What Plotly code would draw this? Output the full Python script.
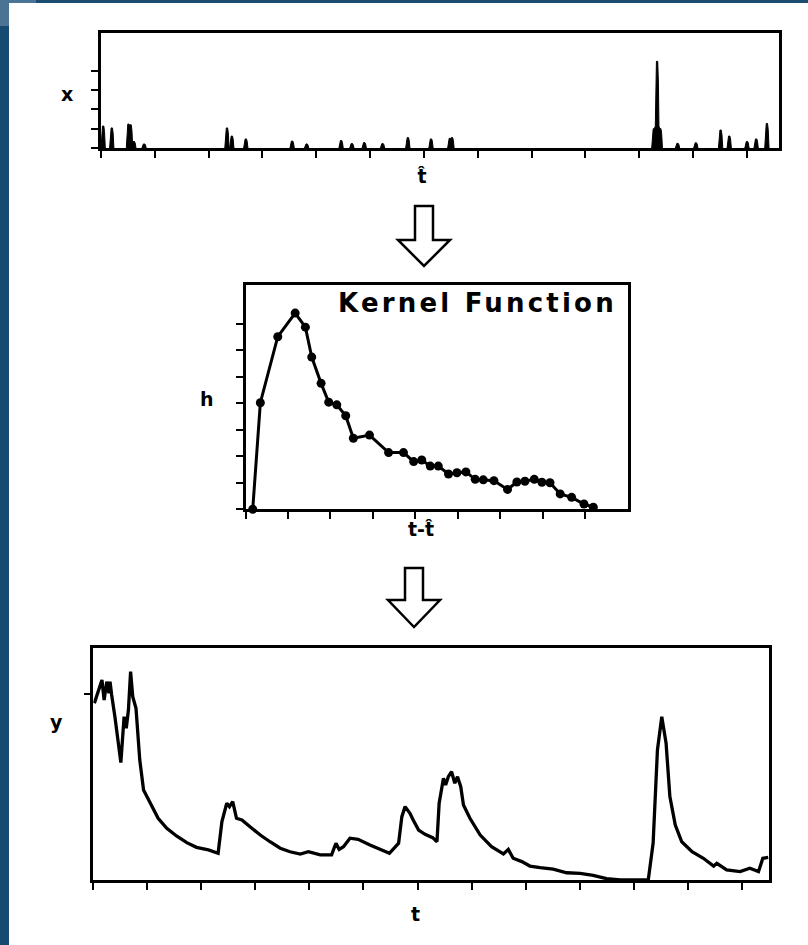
import plotly.graph_objects as go

W, H = 808, 945

# ---- input spike train x(t^) ----
spike_t = [0.04, 0.20, 0.51, 0.55, 0.61, 0.80, 2.34, 2.43, 2.69, 3.55, 3.82, 4.46, 4.66,
           4.89, 5.23, 5.70, 6.13, 6.48, 6.52, 10.27, 10.30, 10.33, 10.36, 10.39, 10.71,
           11.05, 11.51, 11.67, 12.00, 12.17, 12.37]
spike_x = [1.14, 1.04, 1.24, 1.20, 0.34, 0.21, 1.04, 0.62, 0.47, 0.36, 0.21, 0.39, 0.23,
           0.28, 0.23, 0.54, 0.47, 0.50, 0.54, 1.00, 1.09, 4.49, 1.09, 1.00, 0.24,
           0.27, 0.93, 0.62, 0.34, 0.47, 1.27]

# ---- kernel function h(t - t^) ----
kern_t = [0.17, 0.35, 0.76, 1.17, 1.41, 1.56, 1.78, 1.96, 2.15, 2.36, 2.54, 2.92, 3.37,
          3.72, 3.96, 4.15, 4.35, 4.54, 4.78, 4.98, 5.19, 5.41, 5.60, 5.85, 6.17, 6.39,
          6.58, 6.80, 6.98, 7.17, 7.41, 7.68, 7.97, 8.19]
kern_h = [0.0, 4.02, 6.51, 7.40, 6.87, 5.74, 4.75, 4.04, 3.94, 3.53, 2.68, 2.80, 2.14,
          2.14, 1.80, 1.86, 1.63, 1.63, 1.33, 1.38, 1.41, 1.13, 1.11, 1.08, 0.75, 1.03,
          1.06, 1.13, 1.02, 1.00, 0.58, 0.45, 0.20, 0.08]

# ---- output y(t) ----
out_t = [0.02, 0.06, 0.16, 0.20, 0.25, 0.29, 0.31, 0.34, 0.40, 0.51,
         0.57, 0.61, 0.65, 0.69, 0.73, 0.79, 0.86, 0.93, 0.98, 1.08,
         1.20, 1.36, 1.54, 1.73, 1.91, 2.13, 2.31, 2.38, 2.47, 2.52,
         2.58, 2.65, 2.75, 2.90, 3.09, 3.27, 3.46, 3.64, 3.83, 3.98,
         4.20, 4.41, 4.49, 4.55, 4.63, 4.75, 4.90, 5.12, 5.31, 5.48,
         5.65, 5.71, 5.77, 5.86, 5.92, 6.02, 6.14, 6.28, 6.36, 6.40,
         6.48, 6.52, 6.57, 6.63, 6.69, 6.74, 6.80, 6.85, 6.97, 7.16,
         7.37, 7.59, 7.68, 7.77, 7.93, 8.08, 8.27, 8.51, 8.76, 9.01,
         9.25, 9.50, 9.75, 10.06, 10.27, 10.36, 10.44, 10.52, 10.60, 10.67,
         10.77, 10.89, 11.08, 11.29, 11.48, 11.54, 11.72, 11.97, 12.15, 12.31,
         12.39, 12.49]
out_y = [95.2, 98.7, 107.7, 96.9, 106.8, 100.5, 106.8, 99.6, 87.9, 63.2,
         87.9, 81.7, 91.5, 112.2, 98.7, 92.5, 64.6, 48.5, 45.8, 39.5,
         33.2, 27.8, 23.7, 20.1, 17.6, 16.2, 14.4, 31.4, 41.3, 39.5,
         42.2, 33.2, 32.3, 28.7, 24.2, 20.6, 17.1, 15.2, 14.0, 15.2,
         13.5, 13.5, 19.8, 16.5, 17.9, 22.5, 21.9, 18.8, 16.5, 14.4,
         19.8, 34.1, 39.5, 35.9, 32.3, 26.9, 24.6, 22.8, 20.6, 41.3,
         54.8, 51.2, 55.6, 58.3, 52.1, 55.6, 50.2, 40.4, 33.2, 24.2,
         17.9, 14.0, 16.5, 11.7, 9.9, 7.5, 6.6, 5.8, 3.9, 3.6,
         2.5, 0.7, 0.0, 0.0, 0.0, 19.8, 70.0, 87.9, 73.6, 44.9,
         29.6, 20.6, 15.2, 11.7, 7.5, 9.0, 5.4, 4.5, 6.3, 4.5,
         11.7, 12.2]

top_xticks = list(range(13))
top_yticks = [0, 1, 2, 3, 4]
mid_xticks = list(range(9))
mid_yticks = list(range(8))
bot_xticks = list(range(13))
bot_yticks = [100]


def px(x):
    return x / W


def py(y):
    return 1 - y / H


# each spike is drawn as a narrow filled column with a rounded top
sx, sy = [], []
for c, h in zip(spike_t, spike_x):
    sx += [c - 0.04, c - 0.025, c - 0.012, c + 0.012, c + 0.025, c + 0.04, None]
    sy += [0, 0.75 * h, h, h, 0.75 * h, 0, None]

fig = go.Figure()
fig.add_trace(go.Scatter(x=sx, y=sy, mode="lines", fill="toself", fillcolor="black",
                         line=dict(color="black", width=1), xaxis="x", yaxis="y",
                         hoverinfo="skip", cliponaxis=False))
fig.add_trace(go.Scatter(x=kern_t, y=kern_h, mode="lines+markers",
                         line=dict(color="black", width=3),
                         marker=dict(color="black", size=9),
                         xaxis="x2", yaxis="y2", cliponaxis=False))
fig.add_trace(go.Scatter(x=out_t, y=out_y, mode="lines",
                         line=dict(color="black", width=3.3),
                         xaxis="x3", yaxis="y3", cliponaxis=False))

axis_style = dict(showline=True, linecolor="black", linewidth=2.5, mirror=True,
                  ticks="outside", ticklen=7, tickwidth=2, tickcolor="black",
                  showticklabels=False, showgrid=False, zeroline=False, fixedrange=True)

fig.update_layout(
    width=W, height=H,
    margin=dict(l=0, r=0, t=0, b=0),
    paper_bgcolor="white", plot_bgcolor="white",
    showlegend=False,
    xaxis=dict(domain=[px(101), px(779)], range=[0, 12.595], tickmode="array",
               tickvals=top_xticks, anchor="y", **axis_style),
    yaxis=dict(domain=[py(148), py(33)], range=[0, 5.96], tickmode="array",
               tickvals=top_yticks, anchor="x", **axis_style),
    xaxis2=dict(domain=[px(245.5), px(627.7)], range=[0, 9.0], tickmode="array",
                tickvals=mid_xticks, anchor="y2", **axis_style),
    yaxis2=dict(domain=[py(509.3), py(285)], range=[0, 8.46], tickmode="array",
                tickvals=mid_yticks, anchor="x2", **axis_style),
    xaxis3=dict(domain=[px(93.3), px(769.3)], range=[0, 12.51], tickmode="array",
                tickvals=bot_xticks, anchor="y3", **axis_style),
    yaxis3=dict(domain=[py(880), py(648)], range=[0, 124.9], tickmode="array",
                tickvals=bot_yticks, anchor="x3", **axis_style),
)

label_font = dict(family="DejaVu Sans", size=19, color="black", weight="bold")


def label(text, x, y, font=label_font):
    fig.add_annotation(text=text, x=px(x), y=py(y), xref="paper", yref="paper",
                       showarrow=False, xanchor="center", yanchor="middle", font=font)


label("x", 67, 94)
label("t\u0302", 422, 176)
label("h", 207, 399)
label('<span style="letter-spacing:3.2px">Kernel Function</span>', 477, 303,
      dict(family="DejaVu Sans", size=26, color="black", weight="bold"))
label("t-t\u0302", 421, 529)
label("y", 56, 722)
label("t", 415, 914)


def arrow_path(cx, top, head, tip, sh=9, hh=26):
    pts = [(cx - sh, top), (cx + sh, top), (cx + sh, head), (cx + hh, head),
           (cx, tip), (cx - hh, head), (cx - sh, head)]
    d = "M " + " L ".join(f"{px(a):.5f},{py(b):.5f}" for a, b in pts) + " Z"
    return d


for cx, top, head, tip in [(424, 206, 240, 266), (414, 568, 600, 627)]:
    fig.add_shape(type="path", path=arrow_path(cx, top, head, tip), xref="paper",
                  yref="paper", line=dict(color="black", width=2.5), fillcolor="white")

# blue frame along the left and top edges
frame = [
    (0, 9, 0, H, "#174a70"),
    (0, W, 0, 3, "#1a4c72"),
    (0, 9, 0, 26, "#4b7494"),
    (0, 36, 0, 3, "#4b7494"),
]
for x0, x1, y0, y1, col in frame:
    fig.add_shape(type="rect", x0=px(x0), x1=px(x1), y0=py(y1), y1=py(y0),
                  xref="paper", yref="paper", line=dict(width=0), fillcolor=col,
                  layer="above")

fig.write_html("out.html")
